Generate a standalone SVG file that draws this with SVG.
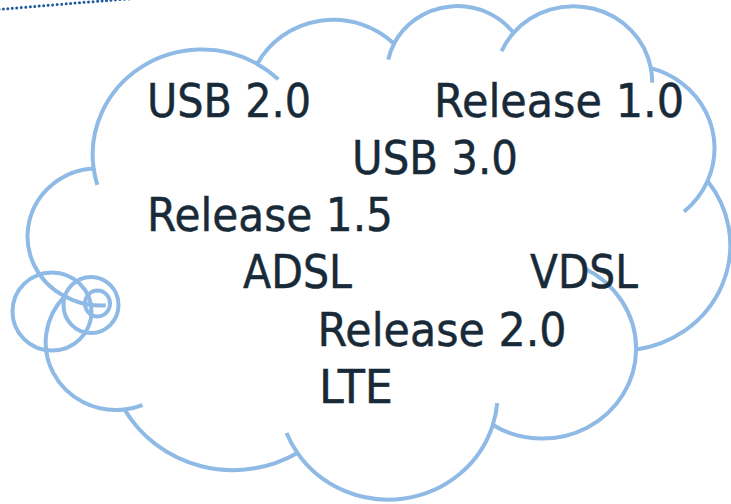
<svg xmlns="http://www.w3.org/2000/svg" width="731" height="504" viewBox="0 0 731 504">
  <style>
    .ln { fill: none; stroke: #8EBAE5; stroke-width: 4; }
    .sc { vector-effect: non-scaling-stroke; }
    .lbl { font-family: "DejaVu Sans", "Liberation Sans", sans-serif; font-size: 47px; fill: #182A38; stroke: #182A38; stroke-width: 0.5; }
  </style>
  <rect width="731" height="504" fill="#FFFFFF"/>
  <path d="M -1 9.5 Q 60 4 135 -1.5" fill="none" stroke="#1F5B9C" stroke-width="3" stroke-linecap="round" stroke-dasharray="0 4.5"/>
  <g id="cloud">
    <g transform="translate(30.5 4.5) scale(0.01619 0.01142)">
      <path class="ln sc" d="M 3900 14370 A 6753 9190 0 0 1 14005.7 5202.7 A 5333 7267 0 0 1 22456.6 3432.7 A 4365 5945 0 0 1 29833.6 2481.6 A 4857 6595 0 0 1 38318.7 5576.7 A 5333 7273 0 0 1 41819 15460.6 A 6775 9220 0 0 1 37406 30203.9 A 5785 7867 0 0 1 28557.7 36814.2 A 6752 9215 0 0 1 16482.2 39264.8 A 7720 10543 0 0 1 5806.7 35470.6 A 4360 5918 0 0 1 2115.3 25548.8 A 4345 5945 0 0 1 3900 14370 Z"/>
      <path class="ln sc" d="M 4127 15789 A 6753 9190 0 0 1 3900 14370 M 14005.7 5202.7 A 6753 9190 0 0 1 15304.8 6550.7 M 22097 4823 A 4365 5945 0 0 1 22456.6 3432.7 M 29092 4093 A 4857 6595 0 0 1 29833.6 2481.6 M 38318.7 5576.7 A 4857 6595 0 0 1 38395.2 6840.4 M 41819 15460.6 A 5333 7273 0 0 1 40371.1 18136.3 M 34154.7 23068.3 A 5785 7867 0 0 1 37406 30203.9 M 28824.4 34904.8 A 6752 9215 0 0 1 28557.7 36814.2 M 16482.2 39264.8 A 6752 9215 0 0 1 15814.5 37525 M 6915.1 35089.2 A 4360 5918 0 0 1 5806.7 35470.6 M 4648.4 26345.7 A 4345 5945 0 0 1 2115.3 25548.8"/>
    </g>
  </g>
  <g id="bubbles">
    <ellipse class="ln" cx="52" cy="311.5" rx="39.5" ry="39"/>
    <ellipse class="ln" cx="91" cy="305" rx="27.5" ry="28"/>
    <ellipse class="ln" cx="97.5" cy="303.5" rx="12.5" ry="13"/>
  </g>
  <g id="labels">
    <text class="lbl" x="147" y="117" textLength="164" lengthAdjust="spacingAndGlyphs">USB 2.0</text>
    <text class="lbl" x="434" y="117" textLength="250" lengthAdjust="spacingAndGlyphs">Release 1.0</text>
    <text class="lbl" x="352" y="173.5" textLength="166" lengthAdjust="spacingAndGlyphs">USB 3.0</text>
    <text class="lbl" x="147" y="230.5" textLength="246" lengthAdjust="spacingAndGlyphs">Release 1.5</text>
    <text class="lbl" x="243" y="288" textLength="109" lengthAdjust="spacingAndGlyphs">ADSL</text>
    <text class="lbl" x="530" y="288" textLength="108" lengthAdjust="spacingAndGlyphs">VDSL</text>
    <text class="lbl" x="317.5" y="346" textLength="249" lengthAdjust="spacingAndGlyphs">Release 2.0</text>
    <text class="lbl" x="319" y="403" textLength="74" lengthAdjust="spacingAndGlyphs">LTE</text>
  </g>
</svg>
